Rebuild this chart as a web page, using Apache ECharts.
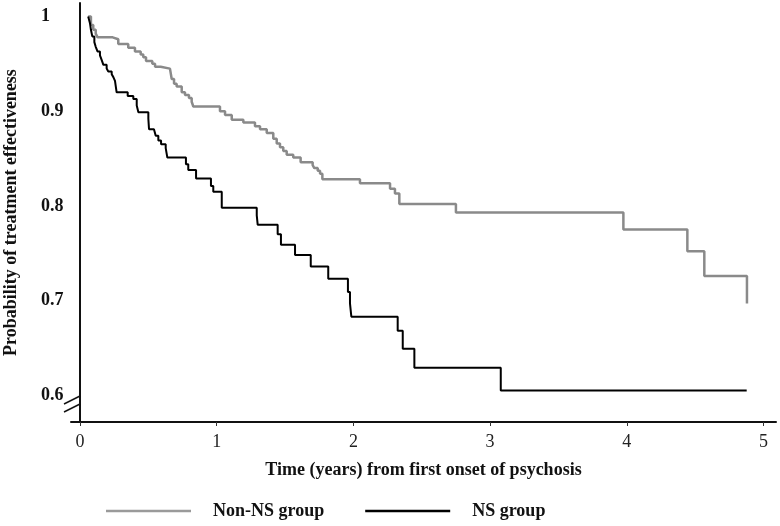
<!DOCTYPE html>
<html>
<head>
<meta charset="utf-8">
<script src="https://cdn.jsdelivr.net/npm/echarts@6/dist/echarts.min.js"></script>
<style>
html,body{margin:0;padding:0;background:#fff;}
#c{width:780px;height:526px;}
</style>
</head>
<body>
<div id="c"></div>
<script>
// ---- data (Kaplan-Meier step points: [time in years, probability]) ----
var seriesNames = ['Non-NS group', 'NS group'];
var xTickLabels = [0, 1, 2, 3, 4, 5];
var yTickLabels = [0.6, 0.7, 0.8, 0.9, 1];

var nonNS = [
  [0.06,1.0],[0.08,0.991],[0.097,0.986],[0.115,0.982],[0.129,0.978],[0.239,0.976],[0.280,0.971],
  [0.353,0.967],[0.402,0.963],[0.444,0.960],[0.463,0.957],[0.483,0.953],[0.529,0.950],[0.549,0.947],
  [0.590,0.945],[0.658,0.943],[0.671,0.934],[0.688,0.929],[0.707,0.926],[0.744,0.920],[0.768,0.917],
  [0.797,0.914],[0.817,0.910],[0.829,0.905],[1.024,0.900],[1.061,0.896],[1.110,0.891],[1.195,0.888],
  [1.280,0.884],[1.317,0.881],[1.366,0.877],[1.414,0.871],[1.439,0.866],[1.463,0.862],[1.487,0.858],
  [1.512,0.854],[1.560,0.851],[1.614,0.846],[1.702,0.843],[1.714,0.840],[1.739,0.837],[1.756,0.834],
  [1.773,0.828],[2.048,0.824],[2.268,0.818],[2.304,0.813],[2.336,0.802],[2.750,0.793],[3.975,0.775],
  [4.443,0.752],[4.567,0.726],[4.879,0.697]
];

var ns = [
  [0.06,1.0],[0.073,0.993],[0.080,0.986],[0.090,0.979],[0.105,0.973],[0.115,0.968],[0.129,0.963],
  [0.146,0.959],[0.159,0.954],[0.171,0.949],[0.195,0.945],[0.207,0.942],[0.232,0.939],[0.244,0.936],
  [0.256,0.932],[0.268,0.920],[0.349,0.916],[0.390,0.913],[0.415,0.906],[0.427,0.899],[0.500,0.892],
  [0.505,0.881],[0.541,0.879],[0.554,0.874],[0.573,0.869],[0.593,0.865],[0.627,0.861],[0.639,0.851],
  [0.775,0.844],[0.792,0.838],[0.849,0.829],[0.958,0.821],[0.975,0.815],[1.037,0.798],[1.293,0.790],
  [1.300,0.780],[1.446,0.770],[1.470,0.759],[1.573,0.748],[1.688,0.736],[1.816,0.723],[1.960,0.709],
  [1.975,0.697],[1.985,0.683],[2.324,0.668],[2.361,0.649],[2.446,0.629],[3.078,0.605],[4.877,0.605]
];

var chart = echarts.init(document.getElementById('c'), null, {renderer: 'canvas'});
var serif = '"Liberation Serif", "DejaVu Serif", serif';

chart.setOption({
  animation: false,
  backgroundColor: '#fff',
  grid: {left: 71, right: 4, top: 3, bottom: 104, containLabel: false, outerBoundsMode: 'none'},
  legend: {
    left: 101, top: 497,
    itemWidth: 85, itemHeight: 2.5, itemGap: 41,
    icon: 'rect',
    data: seriesNames,
    textStyle: {fontFamily: serif, fontWeight: 'bold', fontSize: 18, color: '#111', padding: [0, 0, 0, 17]}
  },
  xAxis: {
    type: 'value',
    min: -0.0658, max: 5.0914,
    name: 'Time (years) from first onset of psychosis',
    nameLocation: 'middle', nameGap: 39,
    nameTextStyle: {fontFamily: serif, fontWeight: 'bold', fontSize: 18, color: '#111'},
    axisLine: {show: true, lineStyle: {color: '#111', width: 2}},
    axisTick: {show: true, length: 4, inside: false, customValues: xTickLabels, lineStyle: {color: '#333', width: 1}},
    axisLabel: {customValues: xTickLabels, margin: 11, fontFamily: serif, fontSize: 18, color: '#222'},
    splitLine: {show: false}
  },
  yAxis: {
    type: 'value',
    min: 0.5717, max: 1.0143,
    name: 'Probability of treatment effectiveness',
    nameLocation: 'middle', nameGap: 51,
    nameTextStyle: {fontFamily: serif, fontWeight: 'bold', fontSize: 18, color: '#111'},
    axisLine: {show: true, lineStyle: {color: '#111', width: 2}},
    axisTick: {show: false},
    axisLabel: {
      customValues: yTickLabels, margin: 30, align: 'left',
      fontFamily: serif, fontWeight: 'bold', fontSize: 18, color: '#111',
      formatter: function (v) { return v === 1 ? '1' : v.toFixed(1); }
    },
    splitLine: {show: false}
  },
  series: [
    {
      name: seriesNames[0], type: 'line', step: 'end', data: nonNS,
      symbol: 'none', showSymbol: false, silent: true,
      lineStyle: {color: '#8a8a8a', width: 2.5}, itemStyle: {color: '#9a9a9a'}, z: 2
    },
    {
      name: seriesNames[1], type: 'line', step: 'end', data: ns,
      symbol: 'none', showSymbol: false, silent: true,
      lineStyle: {color: '#000', width: 2}, itemStyle: {color: '#000'}, z: 3
    }
  ],
  graphic: [
    {type: 'rect', shape: {x: 68, y: 401, width: 7, height: 8}, style: {fill: '#fff'}, z: 100},
    {type: 'line', shape: {x1: 64, y1: 404, x2: 80, y2: 396}, style: {stroke: '#111', lineWidth: 1.5}, z: 101},
    {type: 'line', shape: {x1: 64, y1: 412, x2: 80, y2: 404}, style: {stroke: '#111', lineWidth: 1.5}, z: 101}
  ]
});
</script>
</body>
</html>
